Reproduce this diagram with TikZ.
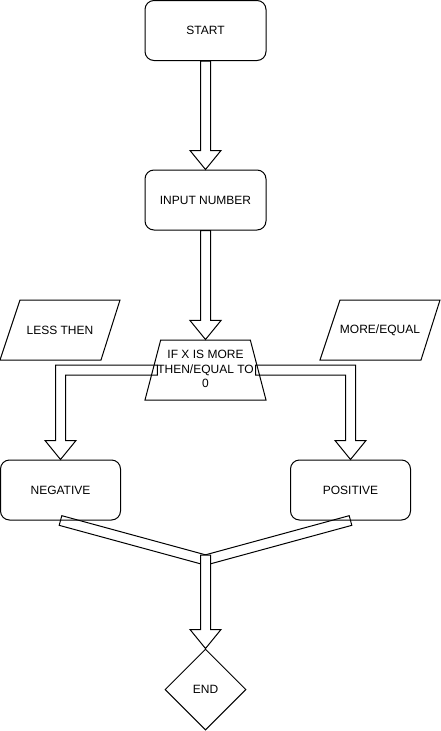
\documentclass[tikz,border=0pt]{standalone}
\usepackage{fontspec}
\setmainfont{Liberation Sans}
\usetikzlibrary{shapes.geometric,calc}
\tikzset{
  box/.style={draw,line width=1pt,rounded corners=9pt,minimum width=121pt,minimum height=60pt,inner sep=0pt,font=\fontsize{12}{14}\selectfont},
  paratext/.style={inner sep=0pt,font=\fontsize{12}{14}\selectfont},
  paraline/.style={draw,line width=1pt,line join=miter},
  decshape/.style={draw,line width=1pt,trapezium,trapezium left angle=80.07,trapezium right angle=80.07,trapezium stretches=true,minimum width=121pt,minimum height=60pt,inner sep=1pt},
  lbl/.style={align=center,inner sep=0pt,font=\fontsize{12}{14.5}\selectfont},
  endshape/.style={draw,line width=1pt,diamond,minimum width=81pt,minimum height=81pt,inner sep=0pt,font=\fontsize{12}{14}\selectfont},
  flexarrow/.style={draw,line width=1pt,line join=miter},
}
\newcommand\vflexarrow[2]{\draw[flexarrow] let \p1=(#1), \p2=(#2) in
  (\x1-5pt,\y1) -- (\x1-5pt,\y2+19pt) -- (\x1-15.5pt,\y2+19pt) -- (\x1,\y2) -- (\x1+15.5pt,\y2+19pt) -- (\x1+5pt,\y2+19pt) -- (\x1+5pt,\y1) -- cycle;}
\begin{document}
\begin{tikzpicture}[x=1pt,y=-1pt]
\useasboundingbox (0,0) rectangle (441,731);
\node[box] (start) at (205.5,30.5) {START};
\node[box] (input) at (205.5,200) {INPUT NUMBER};
\node[decshape] (dec) at (205.5,370) {};
\node[paratext] (less) at (60,330) {LESS THEN};
\draw[paraline] ($(less)+(-40,-30)$) -- ($(less)+(60,-30)$) -- ($(less)+(41,30)$) -- ($(less)+(-60,30)$) -- cycle;
\node[paratext] (more) at (380,330) {MORE/EQUAL};
\draw[paraline] ($(more)+(-40,-30)$) -- ($(more)+(60,-30)$) -- ($(more)+(41,30)$) -- ($(more)+(-60,30)$) -- cycle;
\node[box,minimum width=120pt] (neg) at (60.5,490) {NEGATIVE};
\node[box,minimum width=120pt] (pos) at (350.5,490) {POSITIVE};
\node[endshape] (endd) at (205.5,689.5) {END};
\coordinate (junc) at (205.5,560);
\coordinate (junctop) at (205.5,555);
% arrows
\vflexarrow{start.south}{input.north}
\vflexarrow{input.south}{dec.north}
\draw[flexarrow] let \p1=($(dec.west)+(5,0)$), \p2=(neg.north) in
  (\x1,\y1+5pt) -- (\x2-5pt,\y1+5pt) -- (\x2-5pt,\y2+19pt) -- (\x2-15.5pt,\y2+19pt) -- (\x2,\y2) -- (\x2+15.5pt,\y2+19pt) -- (\x2+5pt,\y2+19pt) -- (\x2+5pt,\y1-5pt) -- (\x1,\y1-5pt) -- cycle;
\draw[flexarrow] let \p1=($(dec.east)+(-3,0)$), \p2=(pos.north) in
  (\x1,\y1+5pt) -- (\x2+5pt,\y1+5pt) -- (\x2+5pt,\y2+19pt) -- (\x2+15.5pt,\y2+19pt) -- (\x2,\y2) -- (\x2-15.5pt,\y2+19pt) -- (\x2-5pt,\y2+19pt) -- (\x2-5pt,\y1-5pt) -- (\x1,\y1-5pt) -- cycle;
\draw[flexarrow] ($(neg.south)!5pt!90:(junc)$) -- ($(junc)!5pt!-90:(neg.south)$) -- ($(junc)!5pt!90:(neg.south)$) -- ($(neg.south)!5pt!-90:(junc)$) -- cycle;
\draw[flexarrow] ($(pos.south)!5pt!90:(junc)$) -- ($(junc)!5pt!-90:(pos.south)$) -- ($(junc)!5pt!90:(pos.south)$) -- ($(pos.south)!5pt!-90:(junc)$) -- cycle;
\draw[flexarrow,fill=white] let \p1=(junctop), \p2=(endd.north) in
  (\x1-5pt,\y1) -- (\x1-5pt,\y2+19pt) -- (\x1-15.5pt,\y2+19pt) -- (\x1,\y2) -- (\x1+15.5pt,\y2+19pt) -- (\x1+5pt,\y2+19pt) -- (\x1+5pt,\y1) -- cycle;
\node[lbl] (dectext) at (205.5,369) {IF X IS MORE\\THEN/EQUAL TO\\0};
\end{tikzpicture}
\end{document}
